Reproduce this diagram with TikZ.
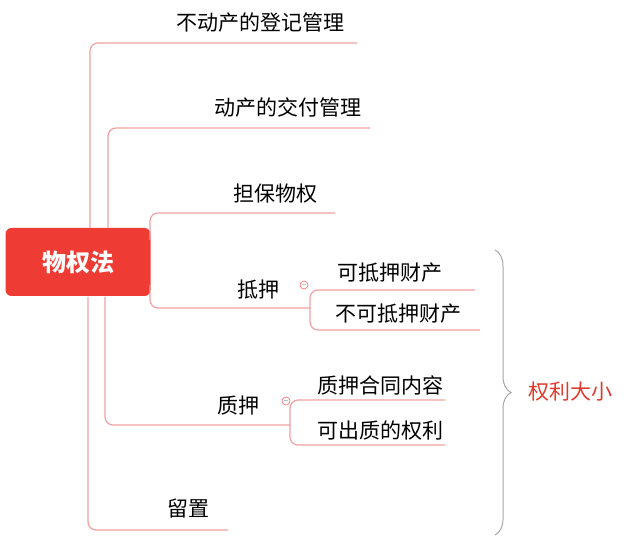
\documentclass[tikz,border=0pt]{standalone}
\usepackage{fontspec}
\setmainfont{Noto Sans CJK SC}
\usetikzlibrary{decorations.pathreplacing}
\definecolor{rootred}{HTML}{EE3B33}
\definecolor{linered}{HTML}{F0A0A0}
\definecolor{txtred}{HTML}{E0392E}
\begin{document}
\begin{tikzpicture}[x=1pt,y=-1pt,
  br/.style={draw=linered,line width=1.2pt,rounded corners=8pt},
  lbl/.style={font=\fontsize{21}{23}\selectfont,anchor=south,inner sep=3pt},
  col/.style={circle,draw=red!60,line width=0.6pt,minimum size=8pt,inner sep=0pt,font=\tiny}]
\useasboundingbox (0,0) rectangle (640,545);
\node[fill=rootred,rounded corners=6pt,minimum width=145pt,minimum height=68pt,text=white,font=\fontsize{24}{26}\selectfont\bfseries] (root) at (78,262) {物权法};
\draw[br] (90,228) -- (90,43) -- (357,43);
\draw[br] (108,228) -- (108,128) -- (370,128);
\draw[br] (150,240) -- (150,213) -- (335,213);
\draw[br] (150,285) -- (150,308) -- (310,308);
\draw[br] (310,308) -- (310,290) -- (475,290);
\draw[br] (310,308) -- (310,330) -- (480,330);
\draw[br] (105,297) -- (105,425) -- (290,425);
\draw[br] (290,425) -- (290,400) -- (445,400);
\draw[br] (290,425) -- (290,445) -- (445,445);
\draw[br] (88,297) -- (88,530) -- (228,530);
\node[lbl] (t1) at (260,36) {不动产的登记管理};
\node[lbl] (t2) at (288,121) {动产的交付管理};
\node[lbl] (t3) at (275,206) {担保物权};
\node[lbl] (t4) at (258,302) {抵押};
\node[lbl] (t41) at (390,286) {可抵押财产};
\node[lbl] (t42) at (398,327) {不可抵押财产};
\node[lbl] (t5) at (238,418) {质押};
\node[lbl] (t51) at (380,398) {质押合同内容};
\node[lbl] (t52) at (380,443) {可出质的权利};
\node[lbl] (t6) at (188,521) {留置};
\node[col] (c1) at (304,285) {$-$};
\node[col] (c2) at (286,401) {$-$};
\draw[gray!70,line width=1pt,decorate,decoration={brace,amplitude=16pt}] (495,250) -- (495,535);
\node[text=txtred,font=\fontsize{21}{23}\selectfont] (big) at (570,392) {权利大小};
\end{tikzpicture}
\end{document}
